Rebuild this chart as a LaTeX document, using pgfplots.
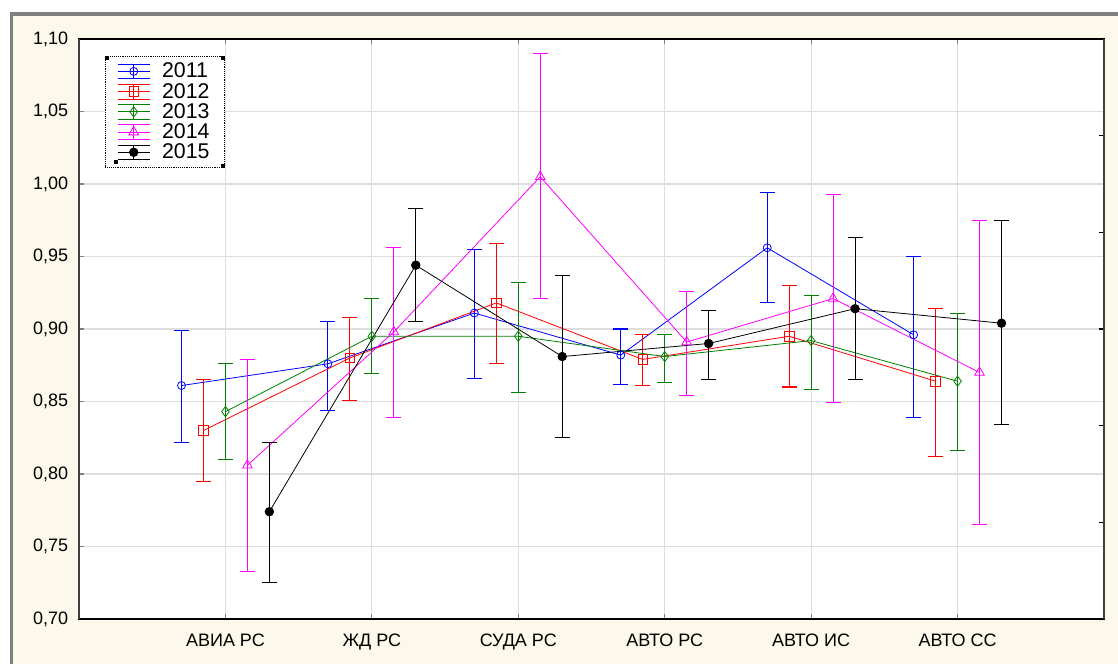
\documentclass[border=0pt]{standalone}
\usepackage{fontspec}
\setmainfont{Liberation Sans}
\usepackage{pgfplots}
\usepackage{pgfplotstable}
\pgfplotsset{compat=1.18}
\definecolor{cream}{RGB}{253,248,236}
\definecolor{gridc}{RGB}{222,222,222}
\definecolor{dgreen}{RGB}{0,128,0}
\definecolor{mblue}{RGB}{0,0,255}
\definecolor{mred}{RGB}{255,0,0}
\definecolor{mmag}{RGB}{255,0,255}

% x = position, y = mean, ep/em = upper/lower error, hi/lo = ends of the bar
\pgfplotstableread{
x y ep em hi lo
0.7 0.861 0.038 0.039 0.899 0.822
1.7 0.876 0.029 0.032 0.905 0.844
2.7 0.911 0.044 0.045 0.955 0.866
3.7 0.882 0.018 0.020 0.900 0.862
4.7 0.956 0.038 0.038 0.994 0.918
5.7 0.896 0.054 0.057 0.950 0.839
}\dA
\pgfplotstableread{
x y ep em hi lo
0.85 0.830 0.035 0.035 0.865 0.795
1.85 0.880 0.028 0.029 0.908 0.851
2.85 0.918 0.041 0.042 0.959 0.876
3.85 0.879 0.017 0.018 0.896 0.861
4.85 0.895 0.035 0.035 0.930 0.860
5.85 0.864 0.050 0.052 0.914 0.812
}\dB
\pgfplotstableread{
x y ep em hi lo
1 0.843 0.033 0.033 0.876 0.810
2 0.895 0.026 0.026 0.921 0.869
3 0.895 0.037 0.039 0.932 0.856
4 0.881 0.015 0.018 0.896 0.863
5 0.892 0.031 0.034 0.923 0.858
6 0.864 0.047 0.048 0.911 0.816
}\dC
\pgfplotstableread{
x y ep em hi lo
1.15 0.806 0.073 0.073 0.879 0.733
2.15 0.898 0.058 0.059 0.956 0.839
3.15 1.005 0.085 0.084 1.090 0.921
4.15 0.891 0.035 0.037 0.926 0.854
5.15 0.921 0.072 0.072 0.993 0.849
6.15 0.870 0.105 0.105 0.975 0.765
}\dD
\pgfplotstableread{
x y ep em hi lo
1.3 0.774 0.048 0.049 0.822 0.725
2.3 0.944 0.039 0.039 0.983 0.905
3.3 0.881 0.056 0.056 0.937 0.825
4.3 0.890 0.023 0.025 0.913 0.865
5.3 0.914 0.049 0.049 0.963 0.865
6.3 0.904 0.071 0.070 0.975 0.834
}\dE

\begin{document}
\begin{tikzpicture}
\useasboundingbox (-59.25pt,-33.75pt) rectangle (779.25pt,464.25pt);
\fill[white] (-59.25pt,-33.75pt) rectangle (779.25pt,464.25pt);
\fill[cream] (-50.25pt,-33.75pt) rectangle (779.25pt,453pt);
\draw[gray, line width=2.4pt] (-50.8pt,-33.75pt) -- (-50.8pt,453.8pt) -- (779.25pt,453.8pt);
\begin{axis}[
  scale only axis,
  width=768.75pt, height=435pt,
  at={(0,0)}, anchor=south west,
  xmin=0, xmax=7, ymin=0.70, ymax=1.10,
  axis background/.style={fill=white},
  xtick={1,2,3,4,5,6},
  xticklabels={АВИА РС, ЖД РС, СУДА РС, АВТО РС, АВТО ИС, АВТО СС},
  ytick={0.70,0.75,0.80,0.85,0.90,0.95,1.00,1.05,1.10},
  xtick pos=both, ytick pos=left,
  tick align=inside,
  major tick length=4pt,
  tick style={line width=0.9pt},
  grid=major,
  major grid style={gridc, line width=0.9pt},
  axis line style={black, line width=1pt},
  yticklabel style={/pgf/number format/use comma, /pgf/number format/fixed, /pgf/number format/fixed zerofill, /pgf/number format/precision=2, /pgf/number format/assume math mode=true, xshift=-8pt},
  ticklabel style={font=\fontsize{13.5}{15}\selectfont, inner sep=0pt},
  xticklabel style={font=\fontsize{13.5}{15}\selectfont, yshift=-11pt},
  legend style={at={(axis description cs:0.0254,0.9707)}, anchor=north west,
    draw=black, densely dotted, fill=white, font=\fontsize{16}{17}\selectfont,
    inner xsep=9pt, inner ysep=3pt, row sep=-1.5pt, cells={anchor=west},
    /tikz/every odd column/.append style={column sep=7pt},
    name=leg},
  legend cell align=left,
  legend image code/.code={%
    \draw[#1,mark=none,solid] (0pt,5.5pt) -- (24pt,5.5pt) (0pt,0pt) -- (24pt,0pt) (0pt,-5.5pt) -- (24pt,-5.5pt) (12pt,-5.5pt) -- (12pt,5.5pt);
    \draw[#1,solid] plot coordinates {(12pt,0pt)};
  },
  error bars/y dir=both, error bars/y explicit,
  error bars/draw error bar/.code 2 args={\draw #1 -- #2;},
  capA/.style={only marks, mark=-, mark size=5.6pt, forget plot, mark options={line width=0.8pt}},
]
% 2011
\addplot[mblue, line width=0.6pt, mark=o, mark size=3pt,
  error bars/error bar style={mblue, line width=0.8pt}]
  table[x=x, y=y, y error plus=ep, y error minus=em] {\dA};
\addlegendentry{2011}
\addplot[mblue, capA] table[x=x, y=hi] {\dA};
\addplot[mblue, capA] table[x=x, y=lo] {\dA};
% 2012
\addplot[mred, line width=0.6pt, mark=square, mark size=3.6pt,
  error bars/error bar style={mred, line width=0.8pt}]
  table[x=x, y=y, y error plus=ep, y error minus=em] {\dB};
\addlegendentry{2012}
\addplot[mred, capA] table[x=x, y=hi] {\dB};
\addplot[mred, capA] table[x=x, y=lo] {\dB};
% 2013
\addplot[dgreen, line width=0.6pt, mark=diamond, mark size=3.8pt,
  error bars/error bar style={dgreen, line width=0.8pt}]
  table[x=x, y=y, y error plus=ep, y error minus=em] {\dC};
\addlegendentry{2013}
\addplot[dgreen, capA] table[x=x, y=hi] {\dC};
\addplot[dgreen, capA] table[x=x, y=lo] {\dC};
% 2014
\addplot[mmag, line width=0.6pt, mark=triangle, mark size=4.2pt,
  error bars/error bar style={mmag, line width=0.8pt}]
  table[x=x, y=y, y error plus=ep, y error minus=em] {\dD};
\addlegendentry{2014}
\addplot[mmag, capA] table[x=x, y=hi] {\dD};
\addplot[mmag, capA] table[x=x, y=lo] {\dD};
% 2015
\addplot[black, line width=0.6pt, mark=*, mark size=3.2pt,
  error bars/error bar style={black, line width=0.8pt}]
  table[x=x, y=y, y error plus=ep, y error minus=em] {\dE};
\addlegendentry{2015}
\addplot[black, capA] table[x=x, y=hi] {\dE};
\addplot[black, capA] table[x=x, y=lo] {\dE};
\end{axis}
\begin{axis}[
  scale only axis,
  width=768.75pt, height=435pt,
  at={(0,0)}, anchor=south west,
  xmin=0, xmax=7, ymin=0.70, ymax=1.10,
  axis x line=none, axis y line*=right,
  axis line style={draw=none},
  ytick={0.76667,0.83333,0.9,0.96667,1.03333},
  yticklabels={},
  tick align=inside, major tick length=4pt,
  tick style={black, line width=0.9pt},
]
\end{axis}
\draw[black!75, line width=1.8pt] (0pt,0pt) -- (0pt,435pt);
\draw[black!75, line width=1.8pt] (768.75pt,0pt) -- (768.75pt,435pt);
\fill[black] (leg.north west) rectangle ++(3pt,-3pt);
\fill[black] (leg.north east) rectangle ++(-3pt,-3pt);
\fill[black] (leg.south east) rectangle ++(-3pt,3pt);
\fill[black] ([xshift=7pt,yshift=3pt]leg.south west) rectangle ++(3pt,3pt);
\end{tikzpicture}
\end{document}
